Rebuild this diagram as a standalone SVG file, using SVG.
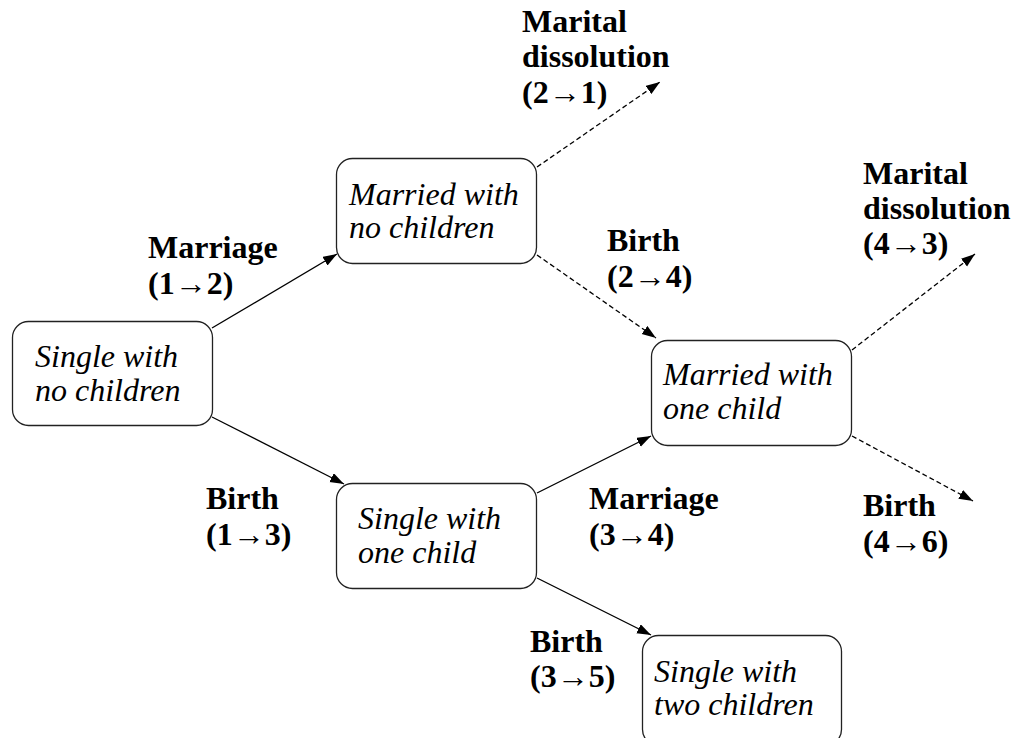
<svg xmlns="http://www.w3.org/2000/svg" width="1029" height="738" viewBox="0 0 1029 738">
<style>
.box{fill:#fff;stroke:#222;stroke-width:1.3}
.nt{font-style:italic;font-size:32px;fill:#000}
.lb{font-weight:bold;font-size:32px;fill:#000}
.c{stroke:#000;stroke-width:1.3;fill:none}
.d{stroke-dasharray:5,3}
</style>
<defs>
<marker id="ah" markerUnits="userSpaceOnUse" markerWidth="15" markerHeight="11" refX="14" refY="5" orient="auto">
<path d="M0,0 L14,5 L0,10 z" fill="#000"/>
</marker>
</defs>
<rect width="1029" height="738" fill="#fff"/>
<g id="connectors">
<line class="c" x1="212" y1="328" x2="337" y2="254" marker-end="url(#ah)"/>
<line class="c" x1="212" y1="417" x2="344" y2="484" marker-end="url(#ah)"/>
<line class="c d" x1="537" y1="255" x2="656" y2="338" marker-end="url(#ah)"/>
<line class="c" x1="537" y1="493" x2="651" y2="436" marker-end="url(#ah)"/>
<line class="c" x1="537" y1="578" x2="651" y2="635" marker-end="url(#ah)"/>
<line class="c d" x1="537" y1="167" x2="660" y2="82" marker-end="url(#ah)"/>
<line class="c d" x1="852" y1="350" x2="975" y2="254" marker-end="url(#ah)"/>
<line class="c d" x1="852" y1="436" x2="973" y2="501" marker-end="url(#ah)"/>
</g>
<g font-family="Liberation Serif, Times New Roman, DejaVu Serif, serif">
<g id="n1"><rect class="box" x="12.5" y="321.5" width="200" height="104" rx="16"/>
<text class="nt" x="35" y="367">Single with</text><text class="nt" x="35" y="401">no children</text></g>
<g id="n2"><rect class="box" x="336.5" y="158.5" width="200" height="105" rx="16"/>
<text class="nt" x="349" y="205">Married with</text><text class="nt" x="349" y="238">no children</text></g>
<g id="n3"><rect class="box" x="336.5" y="483.5" width="200" height="105" rx="16"/>
<text class="nt" x="358" y="529">Single with</text><text class="nt" x="358" y="563">one child</text></g>
<g id="n4"><rect class="box" x="651.5" y="340.5" width="200" height="105" rx="16"/>
<text class="nt" x="663" y="385">Married with</text><text class="nt" x="663" y="419">one child</text></g>
<g id="n5"><rect class="box" x="642.5" y="635.5" width="199" height="110" rx="16"/>
<text class="nt" x="654" y="682">Single with</text><text class="nt" x="654" y="715">two children</text></g>
<g id="labels">
<text class="lb" x="148" y="258">Marriage</text><text class="lb" x="148" y="294">(1→2)</text>
<text class="lb" x="206" y="509">Birth</text><text class="lb" x="206" y="545">(1→3)</text>
<text class="lb" x="607" y="251">Birth</text><text class="lb" x="607" y="287">(2→4)</text>
<text class="lb" x="589" y="509">Marriage</text><text class="lb" x="589" y="545">(3→4)</text>
<text class="lb" x="530" y="652">Birth</text><text class="lb" x="530" y="687">(3→5)</text>
<text class="lb" x="863" y="516">Birth</text><text class="lb" x="863" y="552">(4→6)</text>
<text class="lb" x="522" y="32">Marital</text><text class="lb" x="522" y="67">dissolution</text><text class="lb" x="522" y="103">(2→1)</text>
<text class="lb" x="863" y="184">Marital</text><text class="lb" x="863" y="219">dissolution</text><text class="lb" x="863" y="254">(4→3)</text>
</g>
</g>
</svg>
